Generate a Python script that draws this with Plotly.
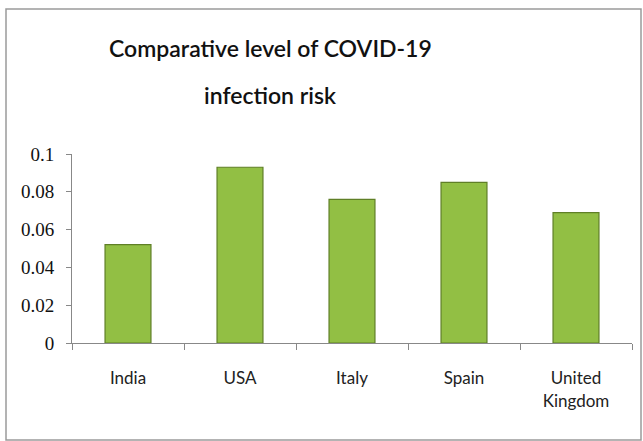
import plotly.graph_objects as go

categories = ["India", "USA", "Italy", "Spain", "United Kingdom"]
tick_labels = ["India", "USA", "Italy", "Spain", "United<br>Kingdom"]
risk = [0.052, 0.093, 0.076, 0.085, 0.069]
y_ticks = [0, 0.02, 0.04, 0.06, 0.08, 0.1]
y_tick_labels = ["0", "0.02", "0.04", "0.06", "0.08", "0.1"]
title_lines = ["Comparative level of COVID-19", "infection risk"]

fig = go.Figure()
fig.add_trace(go.Bar(
    x=categories, y=risk, width=0.41,
    marker=dict(color="#92bf44", line=dict(color="#5f7f26", width=1.2)),
))

fig.update_layout(
    width=643, height=441,
    margin=dict(l=72, r=11, t=154, b=98),
    paper_bgcolor="white", plot_bgcolor="white",
    showlegend=False,
    xaxis=dict(
        tickmode="array", tickvals=categories, ticktext=tick_labels,
        tickson="boundaries", ticks="outside", ticklen=6, tickcolor="#888888",
        showline=True, linecolor="#888888", linewidth=1,
        showgrid=False, tickfont=dict(family="Lato", size=17, color="#222222"),
        ticklabelstandoff=20,
    ),
    yaxis=dict(
        range=[0, 0.1], tickmode="array", tickvals=y_ticks, ticktext=y_tick_labels,
        ticks="outside", ticklen=5, tickcolor="#888888",
        showline=True, linecolor="#888888", linewidth=1,
        showgrid=False, zeroline=False,
        tickfont=dict(family="Liberation Serif", size=19, color="#111111"),
        ticklabelstandoff=8,
    ),
)

for line, ypx in zip(title_lines, [48, 95]):
    fig.add_annotation(
        text=line, xref="paper", yref="paper",
        x=(270-72)/560, y=(343-ypx)/189, xanchor="center", yanchor="middle",
        showarrow=False, font=dict(family="Lato", size=23, color="#111111", weight=600),
    )

fig.add_shape(type="rect", xref="paper", yref="paper",
              x0=(6-72)/560, x1=(641-72)/560, y0=(343-440)/189, y1=(343-9)/189,
              line=dict(color="#9a9a9a", width=1.5), fillcolor="rgba(0,0,0,0)", layer="below")

fig.write_html("out.html")
